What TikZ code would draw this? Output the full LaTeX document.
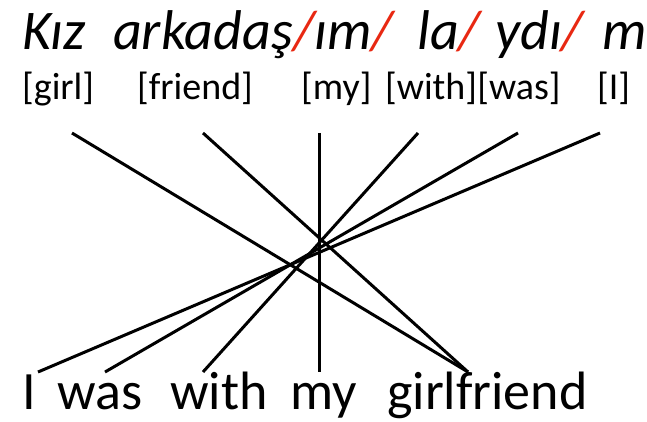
\documentclass[tikz,border=0pt]{standalone}
\usepackage{fontspec}
\setmainfont{Carlito}
\usetikzlibrary{positioning}
\definecolor{slashred}{RGB}{232,40,18}
\newcommand{\rsl}{\textcolor{slashred}{/}}

\begin{document}
\begin{tikzpicture}[x=1pt,y=-1pt,
  turk/.style={font=\fontsize{56}{56}\selectfont\itshape, anchor=base west, inner sep=0pt},
  gloss/.style={font=\fontsize{38}{38}\selectfont, anchor=base west, inner sep=0pt},
  eng/.style={font=\fontsize{54}{54}\selectfont, anchor=base west, inner sep=0pt},
  link/.style={line width=3pt}]
\useasboundingbox (0,0) rectangle (647,422);

 %turkish
 \node[turk] (kiz) at (22,50) {Kız};
 \node[turk] (arkadas) at (113,50) {arkadaş\rsl ım\rsl};
 \node[turk] (la) at (417,50) {la\rsl};
 \node[turk] (ydi) at (495,50) {ydı\rsl};
 \node[turk] (m) at (602,50) {m};

 %gloss
 \node[gloss] (girl) at (22,100) {[girl]};
 \node[gloss] (friend) at (137,100) {[friend]};
 \node[gloss] (my) at (301,100) {[my]};
 \node[gloss] (with) at (385,100) {[with]};
 \node[gloss, anchor=base west] (was) at (with.base east) {[was]};
 \node[gloss] (i) at (597,100) {[I]};

 %english
 \node[eng] (eI) at (22,409) {I};
 \node[eng] (ewas) at (57,409) {was};
 \node[eng] (ewith) at (170,409) {with};
 \node[eng] (emy) at (290,409) {my};
 \node[eng] (egf) at (387,409) {girlfriend};

 \coordinate (girl-t) at (72,133);
 \coordinate (friend-t) at (203,133);
 \coordinate (my-t) at (319,133);
 \coordinate (with-t) at (418,133);
 \coordinate (was-t) at (518,133);
 \coordinate (i-t) at (600,133);
 \coordinate (I-b) at (38,372);
 \coordinate (was-b) at (105,372);
 \coordinate (with-b) at (203,372);
 \coordinate (my-b) at (319,372);
 \coordinate (gf-b) at (468,372);

 \draw[link] (girl-t) -- (gf-b);
 \draw[link] (friend-t) -- (gf-b);
 \draw[link] (my-t) -- (my-b);
 \draw[link] (with-t) -- (with-b);
 \draw[link] (was-t) -- (was-b);
 \draw[link] (i-t) -- (I-b);
\end{tikzpicture}
\end{document}
